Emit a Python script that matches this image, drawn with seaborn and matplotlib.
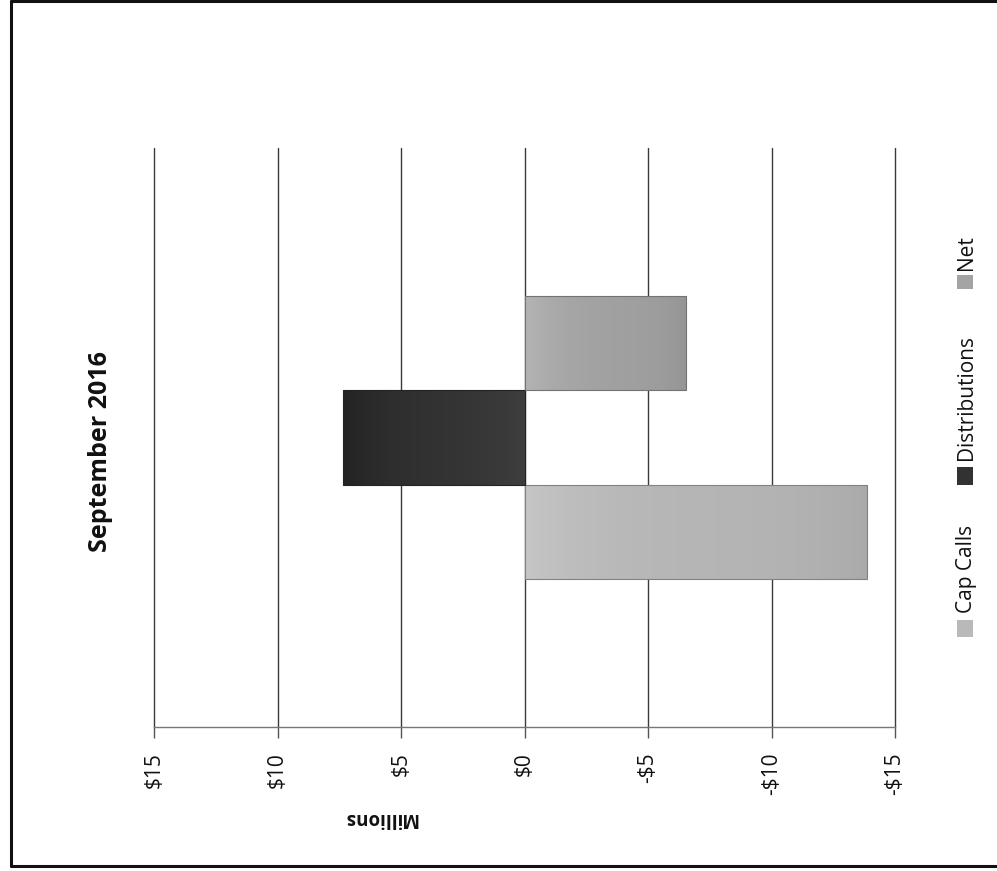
import matplotlib
matplotlib.use("Agg")
import matplotlib.pyplot as plt
from matplotlib.patches import Rectangle
from matplotlib.lines import Line2D
import numpy as np
import pandas as pd
import seaborn as sns

# Monthly cash flows in $ millions
period = "September 2016"
series = ["Cap Calls", "Distributions", "Net"]
values = [-13.85, 7.33, -6.52]
colors = ["#b9b9b9", "#323232", "#a4a4a4"]
tick_values = [15, 10, 5, 0, -5, -10, -15]
tick_labels = ["$15", "$10", "$5", "$0", "-$5", "-$10", "-$15"]

df = pd.DataFrame({"Period": [period] * len(series), "Series": series, "Value": values})

sns.set_theme(style="white")
plt.rcParams["font.family"] = ["Open Sans", "DejaVu Sans"]

W, H = 997, 871
fig = plt.figure(figsize=(W / 100, H / 100), dpi=100)
fig.patch.set_facecolor("white")


def fx(px):
    return px / W


def fy(py):
    return 1 - py / H


ax = fig.add_axes([fx(154), fy(727), fx(895) - fx(154), fy(148) - fy(727)])
sns.barplot(data=df, x="Value", y="Period", hue="Series", hue_order=series,
            palette=colors, width=0.49, dodge=True, legend=False, ax=ax,
            edgecolor="none", linewidth=0)

# Soft shading along each bar, lighter near the zero line
for patch, c in zip(ax.patches, colors):
    x0, y0 = patch.get_x(), patch.get_y()
    w, h = patch.get_width(), patch.get_height()
    base = np.array(matplotlib.colors.to_rgb(c))
    t = np.linspace(0, 1, 200)
    light = 0.18 if c != "#323232" else 0.06
    shade = 1 - light * (1 - t) ** 2
    img = np.clip(base[None, :] * shade[:, None] + light * (1 - t[:, None]) ** 3, 0, 1)
    img = np.clip(img - 0.06 * t[:, None] ** 4, 0, 1)
    im = ax.imshow(img[None, :, :], extent=[x0, x0 + w, y0, y0 + h],
                   aspect="auto", zorder=patch.get_zorder() + 0.1,
                   interpolation="bilinear")
    im.set_clip_path(patch)
    edge = Rectangle((x0, y0), w, h, fill=False, edgecolor=base * 0.7,
                     linewidth=0.8, zorder=patch.get_zorder() + 0.2)
    ax.add_patch(edge)

ax.set_xlim(15, -15)
ax.set_ylim(-0.5, 0.5)
ax.set_xticks(tick_values)
ax.set_xticklabels(tick_labels, rotation=90, fontsize=15, color="#111111")
ax.tick_params(axis="x", direction="out", length=8, width=1, color="#555555",
               pad=10, bottom=True)
ax.set_yticks([])
ax.set_xlabel("")
ax.set_ylabel("")
ax.grid(axis="x", color="#3a3a3a", linewidth=1.0)
for gl in ax.get_xgridlines():
    gl.set_clip_on(False)
ax.set_axisbelow(True)
for side in ["top", "left", "right"]:
    ax.spines[side].set_visible(False)
ax.spines["bottom"].set_color("#777777")
ax.spines["bottom"].set_linewidth(1.0)

# Titles
fig.text(fx(100), fy(452), "September 2016", rotation=90, ha="center", va="center",
         fontsize=18, fontweight="bold", color="#111111")
fig.text(fx(380), fy(818), "Millions", rotation=180, ha="center", va="center",
         fontsize=13.5, fontweight="bold", color="#111111")

# Legend entries, stacked along the right edge
legend_boxes = [(620, 637, 613), (467, 485, 460), (275, 289, 270)]
for (top, bottom, text_bottom), name, c in zip(legend_boxes, series, colors):
    fig.patches.append(Rectangle((fx(957), fy(bottom)), fx(973) - fx(957), fy(top) - fy(bottom),
                                 transform=fig.transFigure, facecolor=c, edgecolor="none"))
    fig.text(fx(966), fy(text_bottom), name, rotation=90, ha="center", va="bottom",
             fontsize=15, color="#111111")

# Page frame
frame = dict(color="#111111", linewidth=2.2, transform=fig.transFigure)
fig.lines.append(Line2D([fx(11), fx(11)], [fy(1), fy(866)], **frame))
fig.lines.append(Line2D([fx(11), fx(997)], [fy(1), fy(1)], **frame))
fig.lines.append(Line2D([fx(11), fx(997)], [fy(866), fy(866)], **frame))

fig.savefig("out.png", dpi=100, facecolor="white")
